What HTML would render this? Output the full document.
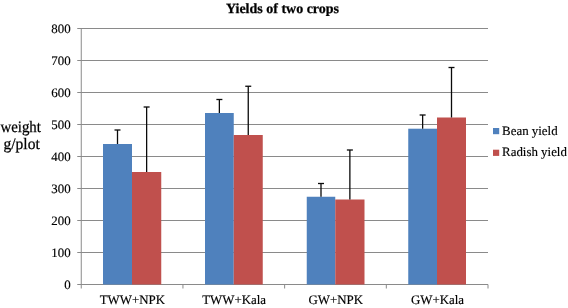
<!DOCTYPE html>
<html><head><meta charset="utf-8"><title>Yields of two crops</title>
<style>
html,body{margin:0;padding:0;background:#fff;}
body{width:568px;height:308px;position:relative;overflow:hidden;font-family:"Liberation Serif",serif;}
svg text{font-family:"Liberation Serif",serif;fill:#000;stroke:#000;stroke-width:0.25px;text-rendering:geometricPrecision;}
.t{font-size:12.9px;stroke-width:0.15px;}
.ti{font-size:14px;font-weight:bold;}
.yl{font-size:16px;}
</style></head><body>
<svg width="568" height="308" viewBox="0 0 568 308" style="position:absolute;left:0;top:0;filter:blur(0.3px)">
<rect width="568" height="308" fill="#fff"/>
<line x1="77.25" y1="284.5" x2="488.0" y2="284.5" stroke="#8a8a8a" stroke-width="1"/>
<text x="70.6" y="288.8" text-anchor="end" class="t">0</text>
<line x1="77.25" y1="252.5" x2="488.0" y2="252.5" stroke="#8a8a8a" stroke-width="1"/>
<text x="70.6" y="256.8" text-anchor="end" class="t">100</text>
<line x1="77.25" y1="220.5" x2="488.0" y2="220.5" stroke="#8a8a8a" stroke-width="1"/>
<text x="70.6" y="224.8" text-anchor="end" class="t">200</text>
<line x1="77.25" y1="188.5" x2="488.0" y2="188.5" stroke="#8a8a8a" stroke-width="1"/>
<text x="70.6" y="192.8" text-anchor="end" class="t">300</text>
<line x1="77.25" y1="156.5" x2="488.0" y2="156.5" stroke="#8a8a8a" stroke-width="1"/>
<text x="70.6" y="160.8" text-anchor="end" class="t">400</text>
<line x1="77.25" y1="124.5" x2="488.0" y2="124.5" stroke="#8a8a8a" stroke-width="1"/>
<text x="70.6" y="128.8" text-anchor="end" class="t">500</text>
<line x1="77.25" y1="92.5" x2="488.0" y2="92.5" stroke="#8a8a8a" stroke-width="1"/>
<text x="70.6" y="96.8" text-anchor="end" class="t">600</text>
<line x1="77.25" y1="60.5" x2="488.0" y2="60.5" stroke="#8a8a8a" stroke-width="1"/>
<text x="70.6" y="64.8" text-anchor="end" class="t">700</text>
<line x1="77.25" y1="28.5" x2="488.0" y2="28.5" stroke="#8a8a8a" stroke-width="1"/>
<text x="70.6" y="32.8" text-anchor="end" class="t">800</text>
<line x1="81.25" y1="28.5" x2="81.25" y2="288.5" stroke="#8a8a8a" stroke-width="1"/>
<line x1="182.9375" y1="284.5" x2="182.9375" y2="288.5" stroke="#8a8a8a" stroke-width="1"/>
<line x1="284.625" y1="284.5" x2="284.625" y2="288.5" stroke="#8a8a8a" stroke-width="1"/>
<line x1="386.3125" y1="284.5" x2="386.3125" y2="288.5" stroke="#8a8a8a" stroke-width="1"/>
<line x1="488.0" y1="284.5" x2="488.0" y2="288.5" stroke="#8a8a8a" stroke-width="1"/>
<rect x="103" y="144.0" width="29" height="140.5" fill="#4f81bd"/>
<rect x="132" y="172.0" width="29.25" height="112.5" fill="#c0504d"/>
<line x1="117.5" y1="130.0" x2="117.5" y2="144.0" stroke="#0a0a0a" stroke-width="1.3"/>
<line x1="114.5" y1="130.0" x2="120.5" y2="130.0" stroke="#0a0a0a" stroke-width="1.3"/>
<line x1="146.625" y1="107.0" x2="146.625" y2="172.0" stroke="#0a0a0a" stroke-width="1.3"/>
<line x1="143.625" y1="107.0" x2="149.625" y2="107.0" stroke="#0a0a0a" stroke-width="1.3"/>
<text x="132.39375" y="304" text-anchor="middle" class="t">TWW+NPK</text>
<rect x="205" y="113.0" width="28.75" height="171.5" fill="#4f81bd"/>
<rect x="233.75" y="135.0" width="29.0" height="149.5" fill="#c0504d"/>
<line x1="219.375" y1="99.5" x2="219.375" y2="113.0" stroke="#0a0a0a" stroke-width="1.3"/>
<line x1="216.375" y1="99.5" x2="222.375" y2="99.5" stroke="#0a0a0a" stroke-width="1.3"/>
<line x1="248.25" y1="86.25" x2="248.25" y2="135.0" stroke="#0a0a0a" stroke-width="1.3"/>
<line x1="245.25" y1="86.25" x2="251.25" y2="86.25" stroke="#0a0a0a" stroke-width="1.3"/>
<text x="234.08125" y="304" text-anchor="middle" class="t">TWW+Kala</text>
<rect x="306.75" y="196.75" width="28.5" height="87.75" fill="#4f81bd"/>
<rect x="335.25" y="199.5" width="29.25" height="85.0" fill="#c0504d"/>
<line x1="321.0" y1="183.5" x2="321.0" y2="196.75" stroke="#0a0a0a" stroke-width="1.3"/>
<line x1="318.0" y1="183.5" x2="324.0" y2="183.5" stroke="#0a0a0a" stroke-width="1.3"/>
<line x1="349.875" y1="150.0" x2="349.875" y2="199.5" stroke="#0a0a0a" stroke-width="1.3"/>
<line x1="346.875" y1="150.0" x2="352.875" y2="150.0" stroke="#0a0a0a" stroke-width="1.3"/>
<text x="335.76875" y="304" text-anchor="middle" class="t">GW+NPK</text>
<rect x="408.25" y="128.7" width="28.75" height="155.8" fill="#4f81bd"/>
<rect x="437" y="117.5" width="29" height="167.0" fill="#c0504d"/>
<line x1="422.625" y1="115.0" x2="422.625" y2="128.7" stroke="#0a0a0a" stroke-width="1.3"/>
<line x1="419.625" y1="115.0" x2="425.625" y2="115.0" stroke="#0a0a0a" stroke-width="1.3"/>
<line x1="451.5" y1="67.5" x2="451.5" y2="117.5" stroke="#0a0a0a" stroke-width="1.3"/>
<line x1="448.5" y1="67.5" x2="454.5" y2="67.5" stroke="#0a0a0a" stroke-width="1.3"/>
<text x="437.45625" y="304" text-anchor="middle" class="t">GW+Kala</text>
<rect x="493" y="128" width="6.2" height="6.2" fill="#4f81bd"/>
<rect x="493" y="149.7" width="6.2" height="6.2" fill="#c0504d"/>
<text x="502.1" y="134.5" class="t">Bean yield</text>
<text x="502.1" y="156.1" class="t">Radish yield</text>
<text x="282.5" y="12.5" text-anchor="middle" class="ti">Yields of two crops</text>
<text x="0.5" y="131.7" class="yl" textLength="40.4" lengthAdjust="spacingAndGlyphs">weight</text>
<text x="3.5" y="149.2" class="yl" textLength="36.2" lengthAdjust="spacingAndGlyphs">g/plot</text>
</svg>
</body></html>
